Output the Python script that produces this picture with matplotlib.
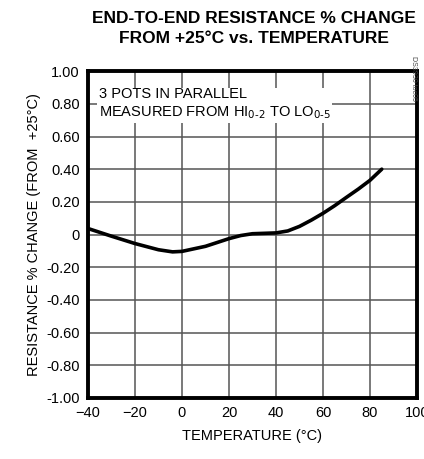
import matplotlib.pyplot as plt
import numpy as np

plt.rcParams['font.family'] = ['Liberation Sans Narrow', 'Liberation Sans', 'DejaVu Sans']

# temperature (C) and resistance % change
temps = [-40, -30, -20, -10, -4, 0, 10, 20, 25, 30, 40, 45, 50, 55, 60, 65, 70, 75, 80, 85]
change = [0.037, -0.01, -0.055, -0.093, -0.106, -0.103, -0.072, -0.025, -0.006,
          0.005, 0.01, 0.022, 0.05, 0.088, 0.13, 0.177, 0.228, 0.278, 0.332, 0.40]

xticks = [-40, -20, 0, 20, 40, 60, 80, 100]
yticks = [1.0, 0.8, 0.6, 0.4, 0.2, 0, -0.2, -0.4, -0.6, -0.8, -1.0]
ylabels = ["1.00", "0.80", "0.60", "0.40", "0.20", "0", "-0.20", "-0.40", "-0.60", "-0.80", "-1.00"]

fig = plt.figure(figsize=(4.24, 4.59), dpi=100)
ax = fig.add_axes([0.2075, 0.133, 0.776, 0.712])

ax.plot(temps, change, color="black", lw=2.6, solid_capstyle="round")

ax.set_xlim(-40, 100)
ax.set_ylim(-1.0, 1.0)
ax.set_xticks(xticks)
ax.set_yticks(yticks)
ax.set_yticklabels(ylabels)
ax.tick_params(length=0, labelsize=10.5, pad=6)
ax.grid(True, color="#555555", lw=1.1)
for s in ax.spines.values():
    s.set_linewidth(2.8)

ax.set_xlabel("TEMPERATURE (°C)", fontsize=10.5, labelpad=6)
ax.set_ylabel("RESISTANCE % CHANGE (FROM  +25°C)", fontsize=10.5, labelpad=4)

fig.text(0.6, 0.975, "END-TO-END RESISTANCE % CHANGE\nFROM +25°C vs. TEMPERATURE",
         ha="center", va="top", fontsize=12.5, fontweight="bold", linespacing=1.35)

ax.text(-35.5, 0.9, "3 POTS IN PARALLEL\nMEASURED FROM HI$_{0\\text{-}2}$ TO LO$_{0\\text{-}5}$",
        ha="left", va="top", fontsize=10.5, linespacing=1.25,
        bbox=dict(facecolor="white", edgecolor="none", pad=1))

fig.text(0.975, 0.83, "DS3930 toc05", rotation=270, fontsize=5, color="#444444",
         ha="center", va="center")

plt.savefig("out.png", dpi=100)
